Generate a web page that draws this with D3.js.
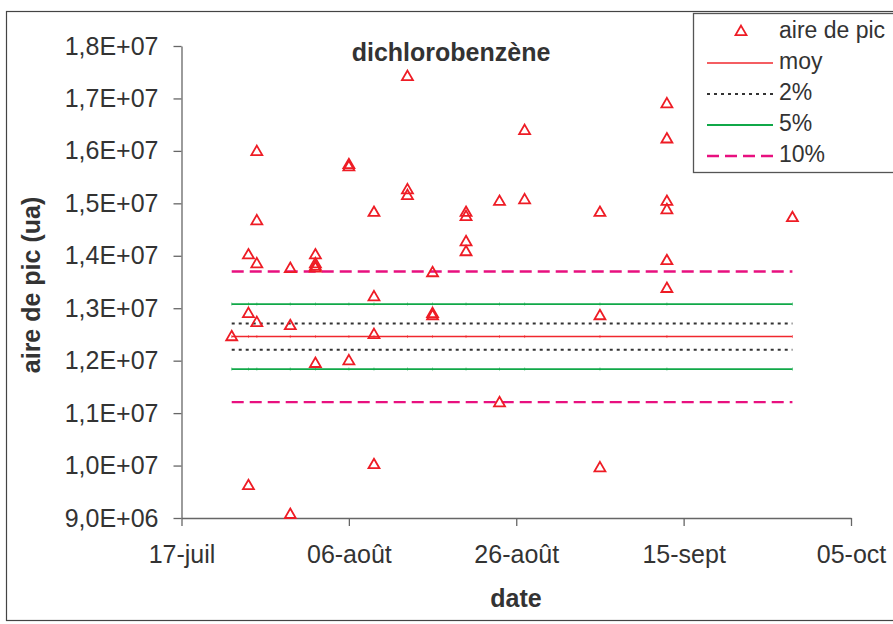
<!DOCTYPE html>
<html>
<head>
<meta charset="utf-8">
<script src="https://cdn.jsdelivr.net/npm/d3@7"></script>
<style>
  body { margin: 0; background: #fff; }
  text { font-family: "Liberation Sans", Arial, sans-serif; fill: #333; }
</style>
</head>
<body>
<div id="chart"></div>
<script>
// dates de prélèvement et aires de pic
var sampleDates = [
  "2005-07-23",
  "2005-07-25", "2005-07-25", "2005-07-25",
  "2005-07-26", "2005-07-26", "2005-07-26", "2005-07-26",
  "2005-07-30", "2005-07-30", "2005-07-30",
  "2005-08-02", "2005-08-02", "2005-08-02", "2005-08-02", "2005-08-02",
  "2005-08-06", "2005-08-06", "2005-08-06",
  "2005-08-09", "2005-08-09", "2005-08-09", "2005-08-09",
  "2005-08-13", "2005-08-13", "2005-08-13",
  "2005-08-16", "2005-08-16", "2005-08-16",
  "2005-08-20", "2005-08-20", "2005-08-20", "2005-08-20",
  "2005-08-24", "2005-08-24",
  "2005-08-27", "2005-08-27",
  "2005-09-05", "2005-09-05", "2005-09-05",
  "2005-09-13", "2005-09-13", "2005-09-13", "2005-09-13", "2005-09-13", "2005-09-13",
  "2005-09-28"
];
var peakAreas = [
  12.45e6,
  14.01e6, 12.89e6, 9.61e6,
  15.98e6, 14.66e6, 13.84e6, 12.72e6,
  13.75e6, 12.66e6, 9.06e6,
  14.01e6, 13.84e6, 13.79e6, 13.76e6, 11.94e6,
  15.73e6, 15.69e6, 11.99e6,
  14.82e6, 13.21e6, 12.49e6, 10.01e6,
  17.41e6, 15.25e6, 15.14e6,
  13.67e6, 12.89e6, 12.85e6,
  14.82e6, 14.74e6, 14.26e6, 14.07e6,
  15.03e6, 11.19e6,
  16.38e6, 15.06e6,
  14.82e6, 12.85e6, 9.95e6,
  16.89e6, 16.22e6, 15.03e6, 14.87e6, 13.90e6, 13.37e6,
  14.72e6
];

// lignes de référence : moyenne et bornes ±2 %, ±5 %, ±10 %
var refNames = ["moy", "2%", "5%", "10%"];
var refLow   = [12.46e6, 12.21e6, 11.84e6, 11.21e6];
var refHigh  = [12.46e6, 12.71e6, 13.08e6, 13.70e6];
var refStart = "2005-07-23";
var refEnd   = "2005-09-28";

var xTickDates  = ["2005-07-17", "2005-08-06", "2005-08-26", "2005-09-15", "2005-10-05"];
var xTickLabels = ["17-juil", "06-août", "26-août", "15-sept", "05-oct"];
var yTicks = [9e6, 10e6, 11e6, 12e6, 13e6, 14e6, 15e6, 16e6, 17e6, 18e6];
var yTickLabels = ["9,0E+06", "1,0E+07", "1,1E+07", "1,2E+07", "1,3E+07",
                   "1,4E+07", "1,5E+07", "1,6E+07", "1,7E+07", "1,8E+07"];

var refStyle = {
  "moy": {color: "#f0282e", width: 1.6, dash: null},
  "2%":  {color: "#333333", width: 2, dash: "3,4"},
  "5%":  {color: "#10a848", width: 1.8, dash: null},
  "10%": {color: "#e8107f", width: 2.4, dash: "12,6"}
};
var markerColor = "#ee1c25";

var W = 893, H = 624;
var plot = {left: 181.5, right: 851, top: 46, bottom: 518};
var parse = d3.timeParse("%Y-%m-%d");

var svg = d3.select("#chart").append("svg")
  .attr("width", W).attr("height", H);

// cadre du graphique
svg.append("rect")
  .attr("x", 6.5).attr("y", 11.5)
  .attr("width", 920).attr("height", 609)
  .attr("fill", "none").attr("stroke", "#444").attr("stroke-width", 1.2);

var x = d3.scaleTime()
  .domain([parse(xTickDates[0]), parse(xTickDates[xTickDates.length - 1])])
  .range([plot.left, plot.right]);
var y = d3.scaleLinear()
  .domain([9e6, 18e6])
  .range([plot.bottom, plot.top]);

//AXES
var yAxis = svg.append("g")
  .attr("transform", "translate(" + plot.left + ",0)")
  .call(d3.axisLeft(y).tickValues(yTicks)
    .tickFormat(function(d, i) { return yTickLabels[i]; })
    .tickSizeInner(8).tickSizeOuter(0).tickPadding(15));

var xAxis = svg.append("g")
  .attr("transform", "translate(0," + plot.bottom + ")")
  .call(d3.axisBottom(x).tickValues(xTickDates.map(parse))
    .tickFormat(function(d, i) { return xTickLabels[i]; })
    .tickSizeInner(8).tickSizeOuter(0).tickPadding(19));

[yAxis, xAxis].forEach(function(g) {
  g.selectAll("path, line").attr("stroke", "#666").attr("stroke-width", 1.3);
  g.selectAll("text").attr("font-size", "25px").attr("fill", "#333")
    .attr("font-family", "Liberation Sans, Arial, sans-serif");
});

// lignes de référence
var uniqueDates = Array.from(new Set(sampleDates));
refNames.forEach(function(name, i) {
  var st = refStyle[name];
  var levels = refLow[i] === refHigh[i] ? [refLow[i]] : [refLow[i], refHigh[i]];
  levels.forEach(function(v) {
    svg.append("line")
      .attr("x1", x(parse(refStart))).attr("x2", x(parse(refEnd)))
      .attr("y1", y(v)).attr("y2", y(v))
      .attr("stroke", st.color)
      .attr("stroke-width", st.width)
      .attr("stroke-dasharray", st.dash);
    // petits repères aux dates de mesure sur les traits pleins
    if (!st.dash) {
      svg.append("g").selectAll("line")
        .data(uniqueDates)
        .enter()
        .append("line")
          .attr("x1", function(d) { return x(parse(d)); })
          .attr("x2", function(d) { return x(parse(d)); })
          .attr("y1", y(v) - 1.5).attr("y2", y(v) + 1.5)
          .attr("stroke", st.color).attr("stroke-width", 0.8)
          .attr("opacity", 0.7);
    }
  });
});

// points
var tri = d3.symbol().type(d3.symbolTriangle).size(52);
svg.append("g").selectAll("path")
  .data(peakAreas)
  .enter()
  .append("path")
    .attr("d", tri)
    .attr("transform", function(d, i) {
      return "translate(" + x(parse(sampleDates[i])) + "," + y(d) + ")";
    })
    .attr("fill", "none")
    .attr("stroke", markerColor)
    .attr("stroke-width", 1.8);

// titres
svg.append("text")
  .attr("x", 451).attr("y", 61)
  .attr("text-anchor", "middle")
  .attr("font-size", "25px").attr("font-weight", "bold")
  .text("dichlorobenzène");

svg.append("text")
  .attr("x", 516).attr("y", 607)
  .attr("text-anchor", "middle")
  .attr("font-size", "25px").attr("font-weight", "bold")
  .text("date");

svg.append("text")
  .attr("transform", "translate(40," + ((plot.top + plot.bottom) / 2 + 3) + ") rotate(-90)")
  .attr("text-anchor", "middle")
  .attr("font-size", "25px").attr("font-weight", "bold")
  .text("aire de pic (ua)");

// légende
var legend = svg.append("g").attr("transform", "translate(693,13)");
legend.append("rect")
  .attr("x", 0.5).attr("y", 0.5)
  .attr("width", 260).attr("height", 159)
  .attr("fill", "#fff").attr("stroke", "#555").attr("stroke-width", 1.3);

var legendKeys = ["aire de pic"].concat(refNames);
legend.selectAll("g.item")
  .data(legendKeys)
  .enter()
  .append("g")
    .attr("class", "item")
    .attr("transform", function(d, i) { return "translate(0," + (19 + i * 31) + ")"; })
  .each(function(d, i) {
    var g = d3.select(this);
    if (i === 0) {
      g.append("path").attr("d", tri)
        .attr("transform", "translate(48,0)")
        .attr("fill", "none").attr("stroke", markerColor).attr("stroke-width", 1.8);
    } else {
      var st = refStyle[d];
      g.append("line")
        .attr("x1", 14).attr("x2", 80).attr("y1", 0).attr("y2", 0)
        .attr("stroke", st.color).attr("stroke-width", st.width)
        .attr("stroke-dasharray", st.dash);
    }
    g.append("text")
      .attr("x", 86).attr("y", 6)
      .attr("font-size", "23px")
      .text(d);
  });
</script>
</body>
</html>
